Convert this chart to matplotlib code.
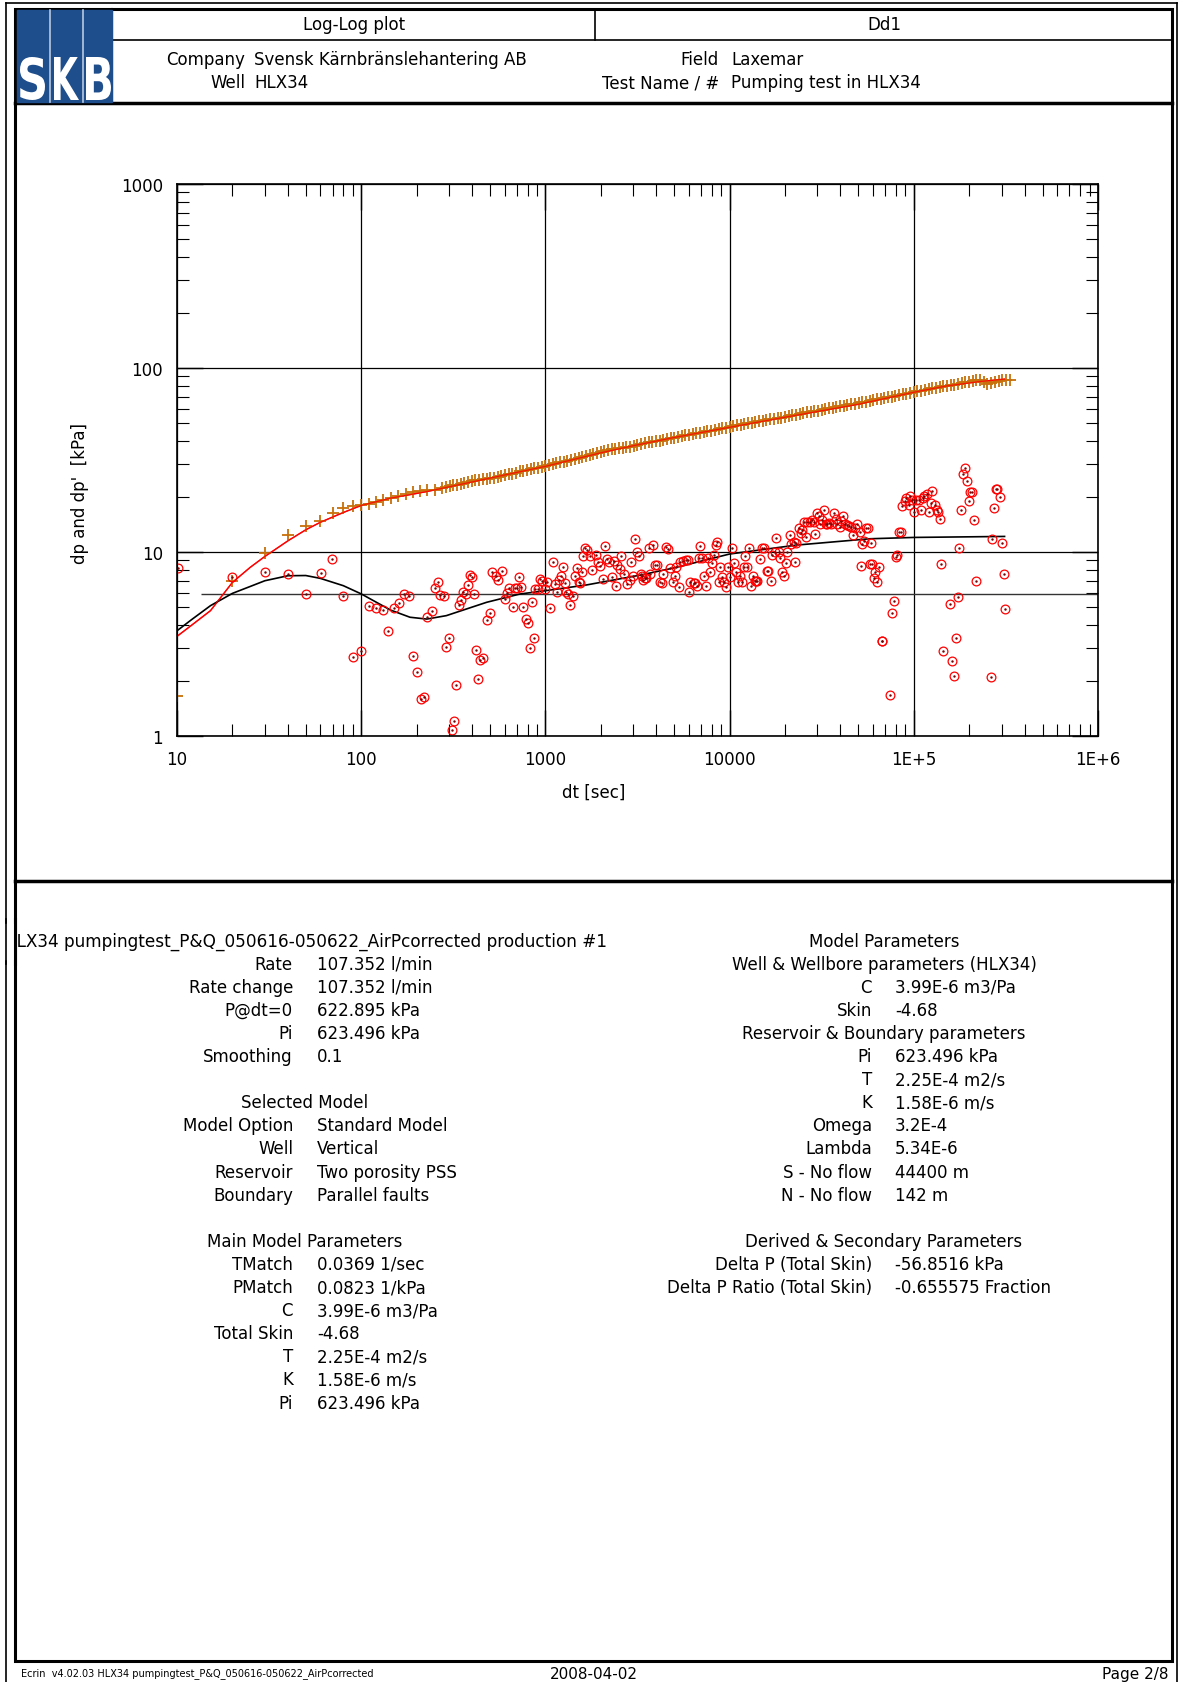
import matplotlib
matplotlib.use("Agg")
import matplotlib.pyplot as plt
from matplotlib.patches import Rectangle, PathPatch
from matplotlib.textpath import TextPath
from matplotlib.font_manager import FontProperties
from matplotlib.transforms import Affine2D
from matplotlib.ticker import FixedLocator, FixedFormatter, NullFormatter

W, H = 1182, 1683
plt.rcParams['font.family'] = 'DejaVu Sans'

# ---- pressure change (dp), kPa ----
dt_p = [10, 20, 30, 40, 50, 60, 70, 80, 90,
        100, 110, 120, 132, 145, 158, 174, 191, 209, 229, 251, 275, 288,
        302, 316, 331, 347, 363, 380, 398, 417, 437, 457, 479, 501, 525,
        550, 575, 603, 631, 661, 692, 724, 759, 794, 832, 871, 912, 955,
        1000, 1047, 1096, 1148, 1202, 1259, 1318, 1380, 1445, 1514, 1585,
        1660, 1738, 1820, 1905, 1995, 2089, 2188, 2291, 2399, 2512, 2630,
        2754, 2884, 3020, 3162, 3311, 3467, 3631, 3802, 3981, 4169, 4365,
        4571, 4786, 5012, 5248, 5495, 5754, 6026, 6310, 6607, 6918, 7244,
        7586, 7943, 8318, 8710, 9120, 9550,
        10000, 10470, 10960, 11480, 12020, 12590, 13180, 13800, 14450, 15140,
        15850, 16600, 17380, 18200, 19050, 19950, 20890, 21880, 22910, 23990,
        25120, 26300, 27540, 28840, 30200, 31620, 33110, 34670, 36310, 38020,
        39810, 41690, 43650, 45710, 47860, 50120, 52480, 54950, 57540, 60260,
        63100, 66070, 69180, 72440, 75860, 79430, 83180, 87100, 91200, 95500,
        100000, 104700, 109600, 114800, 120200, 125900, 131800, 138000, 144500,
        151400, 158500, 166000, 173800, 182000, 190500, 199500, 208900, 218800,
        229100, 239900, 251200, 263000, 275400, 288400, 302000, 316200, 331100]
dp_p = [1.65, 6.98, 9.88, 12.3, 13.8, 14.7, 16.3, 17.3, 17.8,
        18.1, 18.2, 18.7, 19.2, 19.6, 20.1, 20.7, 21.2, 21.4, 21.6, 21.8, 22.4, 22.6,
        22.9, 23.0, 23.1, 23.4, 23.6, 24.0, 24.3, 24.5, 24.7, 24.8, 24.9, 25.2, 25.4,
        25.6, 25.8, 26.1, 26.4, 26.7, 27.0, 27.4, 27.7, 27.9, 28.2, 28.5, 28.7, 29.0,
        29.2, 29.6, 30.0, 30.4, 30.7, 31.0, 31.4, 31.8, 32.1, 32.4, 32.7,
        33.1, 33.5, 34.0, 34.4, 34.8, 35.3, 35.7, 36.1, 36.4, 36.6, 36.8,
        37.1, 37.4, 37.8, 38.2, 38.6, 39.0, 39.4, 39.8, 40.1, 40.3, 40.6,
        41.0, 41.5, 41.9, 42.3, 42.7, 43.0, 43.4, 43.7, 44.1, 44.6, 45.0,
        45.3, 45.7, 46.1, 46.6, 47.0, 47.4,
        47.8, 48.3, 48.8, 49.2, 49.7, 50.1, 50.5, 50.9, 51.3, 51.6,
        52.0, 52.5, 53.0, 53.4, 53.8, 54.3, 54.8, 55.3, 55.8, 56.3,
        56.9, 57.3, 57.8, 58.2, 58.7, 59.3, 59.8, 60.3, 60.8, 61.3,
        61.9, 62.4, 63.0, 63.5, 64.0, 64.5, 65.0, 65.6, 66.2, 66.8,
        67.5, 68.1, 68.7, 69.3, 70.0, 70.5, 71.1, 71.8, 72.6, 73.3,
        74.0, 74.6, 75.3, 76.0, 76.7, 77.4, 78.2, 78.9, 79.6,
        80.1, 80.7, 81.3, 82.0, 82.9, 83.8, 84.4, 85.1, 85.6,
        86.1, 84.0, 82.2, 83.0, 84.1, 85.0, 85.7, 86.1, 86.5]

# ---- Bourdet derivative (dp'), kPa ----
dt_d = [10.1, 20, 30, 40.2, 49.9, 60.2, 69.7, 79.9, 89.8, 99.3,
        110, 120, 131, 139, 150, 160, 171, 181, 190, 200,
        210, 219, 227, 241, 250, 260, 269, 280, 289, 300,
        312, 320, 329, 339, 350, 358, 370, 381, 389, 400,
        410, 419, 431, 439, 459, 481, 499, 516, 538, 553,
        578, 602, 620, 636, 663, 682, 702, 717, 741, 760,
        780, 800, 820, 847, 862, 877, 910, 936, 960, 1000,
        1025, 1056, 1093, 1125, 1149, 1183, 1213, 1239, 1270, 1301,
        1334, 1368, 1413, 1449, 1486, 1513, 1538, 1581, 1603, 1637,
        1684, 1741, 1801, 1871, 1932, 1982, 2057, 2110, 2163, 2218,
        2302, 2350, 2410, 2460, 2535, 2588, 2662, 2788, 2871, 2931,
        3006, 3081, 3132, 3212, 3295, 3365, 3389, 3476, 3500, 3656,
        3681, 3840, 3925, 4040, 4177, 4300, 4355, 4541, 4656, 4732,
        4932, 5035, 5141, 5318, 5411, 5590, 5776, 5950, 6030, 6130,
        6385, 6500, 6660, 6830, 6950, 7125, 7270, 7420, 7635, 7800,
        8070, 8200, 8410, 8550, 8770, 8920, 9150, 9380, 9615, 9810,
        10000, 10350, 10610, 10880, 11100, 11340, 11670, 11910, 12120, 12420,
        12690, 13010, 13390, 13700, 13860, 14050, 14690, 14930, 15300, 15900,
        16250, 16700, 17070, 17570, 17950, 18540, 18870, 19350, 19680, 20180,
        20610, 21200, 21650, 22280, 22550, 23030, 23810, 24310, 24820, 25230,
        25870, 26430, 27200, 27880, 28590, 29070, 29800, 30550, 31070, 31860,
        32530, 33200, 33800, 34620, 35660, 36700, 37650, 38230, 39520, 40360,
        41200, 42260, 43360, 44460, 45600, 46700, 47900, 49100, 50800, 51400,
        52600, 53400, 55300, 56400, 57500, 58700, 59300, 60500, 61300, 63100,
        64700, 67000, 67600, 74500, 76000, 77600, 79600, 81300, 83200, 84800,
        86500, 89100, 91000, 94000, 95700, 98100, 99800, 103100, 106600, 109700,
        112000, 114300, 118200, 120200, 123300, 125900, 129600, 133400, 135200, 138100,
        141000, 143900, 157700, 161700, 165100, 168800, 173000, 175900, 181200, 184700,
        189300, 194000, 198200, 203000, 207000, 211900, 217300, 261000, 266500, 273400,
        280000, 284500, 292500, 299500, 307000, 312000]
dp_d = [8.15, 7.31, 7.82, 7.62, 5.89, 7.72, 9.12, 5.79, 2.70, 2.91,
        5.07, 4.94, 4.86, 3.71, 4.94, 5.26, 5.91, 5.74, 2.72, 2.24,
        1.58, 1.62, 4.45, 4.76, 6.40, 6.90, 5.82, 5.74, 3.05, 3.40,
        1.08, 1.20, 1.90, 5.17, 5.51, 6.04, 5.91, 6.62, 7.53, 7.34,
        5.89, 2.92, 2.04, 2.58, 2.64, 4.26, 4.68, 7.76, 7.38, 7.06,
        7.85, 5.55, 5.98, 6.35, 5.00, 6.35, 6.35, 7.28, 6.43, 5.00,
        4.32, 4.11, 3.01, 5.37, 3.40, 6.29, 6.29, 7.13, 6.96, 6.29,
        6.90, 4.96, 8.83, 6.70, 6.08, 7.05, 7.43, 8.26, 6.79, 6.08,
        5.91, 5.15, 5.74, 7.43, 8.15, 6.84, 6.79, 7.82, 9.55, 10.5,
        10.3, 9.48, 8.01, 9.67, 8.86, 8.36, 7.11, 10.8, 9.16, 8.86,
        7.28, 8.90, 6.56, 8.50, 8.09, 9.55, 7.59, 6.70, 7.05, 8.79,
        7.43, 11.8, 10.0, 9.55, 7.62, 7.38, 7.07, 7.19, 7.22, 10.5,
        7.59, 10.9, 8.50, 8.50, 6.90, 6.79, 7.59, 10.7, 10.4, 8.15,
        6.84, 7.38, 8.26, 6.43, 8.79, 8.97, 9.08, 9.08, 6.04, 6.90,
        6.79, 6.79, 6.51, 9.25, 10.8, 9.25, 7.43, 6.56, 9.25, 7.82,
        8.71, 9.63, 10.9, 11.4, 6.90, 8.26, 7.28, 6.90, 6.48, 8.26,
        7.28, 10.5, 8.71, 7.76, 6.90, 7.38, 6.90, 8.32, 9.55, 8.32,
        10.5, 6.56, 7.38, 6.98, 6.98, 6.98, 9.16, 10.5, 10.5, 7.92,
        7.92, 6.98, 9.63, 10.0, 11.9, 9.96, 9.25, 7.82, 7.38, 8.71,
        10.0, 12.3, 11.0, 11.3, 8.79, 11.2, 13.5, 12.7, 13.1, 14.5,
        12.0, 14.5, 14.6, 15.0, 14.6, 12.5, 16.3, 15.6, 14.2, 15.0,
        17.0, 14.2, 14.2, 14.4, 14.2, 16.3, 15.1, 14.2, 13.6, 14.8,
        15.6, 14.2, 14.0, 13.8, 13.6, 12.3, 13.5, 14.2, 12.8, 8.36,
        11.0, 11.5, 13.5, 13.5, 8.61, 11.2, 8.57, 7.19, 7.76, 6.90,
        8.26, 3.30, 3.30, 1.68, 4.66, 5.42, 9.36, 9.63, 12.8, 12.8,
        17.8, 19.0, 19.6, 18.0, 20.2, 19.2, 16.6, 19.2, 19.2, 16.9,
        19.6, 20.2, 20.7, 16.4, 18.5, 21.4, 18.0, 17.0, 16.4, 15.1,
        8.61, 2.90, 5.20, 2.55, 2.13, 3.40, 5.69, 10.5, 17.0, 26.5,
        28.6, 24.4, 19.0, 21.2, 21.2, 14.9, 6.98, 2.09, 11.7, 17.4,
        21.9, 21.9, 19.8, 11.2, 7.59, 4.88]

# ---- model curves ----
dt_mp = [10, 12, 15.2, 20, 25, 30, 35, 40, 50, 60, 80, 100, 144, 227, 300,
         500, 1000, 2000, 3000, 5000, 10000, 20000, 50000, 100000, 150000,
         230000, 311000]
dp_mp = [3.48, 4.0, 4.80, 6.84, 8.26, 9.46, 10.5, 11.5, 13.2, 14.5, 16.4, 17.9,
         19.6, 21.3, 22.6, 25.2, 29.2, 34.6, 37.8, 41.9, 47.6, 54.0, 63.5, 73.8,
         79.8, 84.5, 87.0]
dt_md = [10, 12, 15.2, 20, 25, 30, 40, 50, 60, 80, 100, 144, 184, 227, 290,
         480, 726, 1000, 1670, 3300, 5000, 10000, 23000, 57500, 100000, 311000]
dp_md = [3.73, 4.29, 5.11, 5.96, 6.5, 6.98, 7.43, 7.45, 7.19, 6.56, 5.92, 4.84,
         4.42, 4.32, 4.51, 5.33, 5.91, 6.16, 6.62, 7.5, 8.2, 9.75, 10.9, 11.8,
         12.0, 12.15]
stab_level = 5.9
stab_start = 13.5

x_ticks = [10, 100, 1000, 1e4, 1e5, 1e6]
x_tick_labels = ['10', '100', '1000', '10000', '1E+5', '1E+6']
y_ticks = [1, 10, 100, 1000]
y_tick_labels = ['1', '10', '100', '1000']

# ---- report text ----
header_left = [('Company', 'Svensk Kärnbränslehantering AB'), ('Well', 'HLX34')]
header_right = [('Field', 'Laxemar'), ('Test Name / #', 'Pumping test in HLX34')]
run_title = 'HLX34 pumpingtest_P&Q_050616-050622_AirPcorrected production #1'
left_rows = [
    (1, 'Rate', '107.352 l/min'), (2, 'Rate change', '107.352 l/min'),
    (3, 'P@dt=0', '622.895 kPa'), (4, 'Pi', '623.496 kPa'), (5, 'Smoothing', '0.1'),
    (7, None, 'Selected Model'),
    (8, 'Model Option', 'Standard Model'), (9, 'Well', 'Vertical'),
    (10, 'Reservoir', 'Two porosity PSS'), (11, 'Boundary', 'Parallel faults'),
    (13, None, 'Main Model Parameters'),
    (14, 'TMatch', '0.0369 1/sec'), (15, 'PMatch', '0.0823 1/kPa'),
    (16, 'C', '3.99E-6 m3/Pa'), (17, 'Total Skin', '-4.68'),
    (18, 'T', '2.25E-4 m2/s'), (19, 'K', '1.58E-6 m/s'), (20, 'Pi', '623.496 kPa'),
]
right_rows = [
    (0, None, 'Model Parameters'), (1, None, 'Well & Wellbore parameters (HLX34)'),
    (2, 'C', '3.99E-6 m3/Pa'), (3, 'Skin', '-4.68'),
    (4, None, 'Reservoir & Boundary parameters'),
    (5, 'Pi', '623.496 kPa'), (6, 'T', '2.25E-4 m2/s'), (7, 'K', '1.58E-6 m/s'),
    (8, 'Omega', '3.2E-4'), (9, 'Lambda', '5.34E-6'),
    (10, 'S - No flow', '44400 m'), (11, 'N - No flow', '142 m'),
    (13, None, 'Derived & Secondary Parameters'),
    (14, 'Delta P (Total Skin)', '-56.8516 kPa'),
    (15, 'Delta P Ratio (Total Skin)', '-0.655575 Fraction'),
]
footer_left = 'Ecrin  v4.02.03 HLX34 pumpingtest_P&Q_050616-050622_AirPcorrected'
footer_mid = '2008-04-02'
footer_right = 'Page 2/8'

FS = 12

fig = plt.figure(figsize=(W / 100, H / 100), dpi=100)

# page layer in pixel units, y downwards
page = fig.add_axes([0, 0, 1, 1])
page.set_xlim(0, W)
page.set_ylim(H, 0)
page.axis('off')

# frames
page.add_patch(Rectangle((15, 10), 1157, 1652, fill=False, lw=2.2, ec='black'))
page.plot([6, 6], [4, H], color='black', lw=1.2)
page.plot([1177, 1177], [4, H], color='black', lw=1.2)
page.plot([6, 1177], [4, 4], color='black', lw=1.2)
page.plot([112, 1172], [41, 41], color='black', lw=1.2)
page.plot([595, 595], [10, 41], color='black', lw=1.2)
page.plot([15, 1172], [104, 104], color='black', lw=2.5)
page.plot([15, 1172], [882, 882], color='black', lw=2.5)
page.plot([112, 112], [10, 104], color='black', lw=1.5)

# SKB logo
page.add_patch(Rectangle((17, 11), 95, 92, color='#1f4e8c', zorder=2))
for xs in (50, 83):
    page.plot([xs, xs], [11, 103], color='#b9c9e0', lw=1.2, zorder=3)
bold = FontProperties(family='DejaVu Sans', weight='bold')
for ch, x0 in zip('SKB', (20, 54, 86)):
    tp = TextPath((0, 0), ch, size=100, prop=bold)
    ext = tp.get_extents()
    w, h = 25, 43
    tr = (Affine2D().translate(-ext.x0, -ext.y0)
          .scale(w / ext.width, -h / ext.height).translate(x0, 101))
    page.add_patch(PathPatch(tr.transform_path(tp), color='white', lw=0, zorder=4))

# header text
page.text(354, 25, 'Log-Log plot', fontsize=FS, ha='center', va='center')
page.text(884, 25, 'Dd1', fontsize=FS, ha='center', va='center')
for i, (k, v) in enumerate(header_left):
    page.text(245, 60 + 23 * i, k, fontsize=FS, ha='right', va='center')
    page.text(254, 60 + 23 * i, v, fontsize=FS, ha='left', va='center')
for i, (k, v) in enumerate(header_right):
    page.text(719, 60 + 23 * i, k, fontsize=FS, ha='right', va='center')
    page.text(731, 60 + 23 * i, v, fontsize=FS, ha='left', va='center')

# axis labels
page.text(80, 494, "dp and dp'  [kPa]", fontsize=FS, rotation=90, ha='center', va='center')
page.text(594, 793, 'dt [sec]', fontsize=FS, ha='center', va='center')

# results text
def row_y(i):
    return 941.6 + 23.1 * i

page.text(4, row_y(0), run_title, fontsize=12.2, ha='left', va='center')
# the run title runs past the frame on the left; hide what sticks out
page.add_patch(Rectangle((0, 925), 14, 35, color='white', zorder=5))
page.plot([6, 6], [920, 965], color='black', lw=1.2, zorder=6)
page.plot([15, 15], [920, 965], color='black', lw=2.2, zorder=6)

for rows, xk, xv, xc in ((left_rows, 293, 317, 305), (right_rows, 872, 895, 884)):
    for i, k, v in rows:
        if k is None:
            page.text(xc, row_y(i), v, fontsize=FS, ha='center', va='center')
        else:
            page.text(xk, row_y(i), k, fontsize=FS, ha='right', va='center')
            page.text(xv, row_y(i), v, fontsize=FS, ha='left', va='center')

page.text(21, 1674, footer_left, fontsize=7, ha='left', va='center')
page.text(594, 1675, footer_mid, fontsize=11, ha='center', va='center')
page.text(1168, 1675, footer_right, fontsize=11, ha='right', va='center')

# log-log plot
ax = fig.add_axes([177 / W, 1 - 737 / H, 921 / W, 552 / H])
ax.set_xscale('log')
ax.set_yscale('log')
ax.set_xlim(10, 1e6)
ax.set_ylim(1, 1000)

ax.xaxis.set_major_locator(FixedLocator(x_ticks))
ax.xaxis.set_major_formatter(FixedFormatter(x_tick_labels))
ax.yaxis.set_major_locator(FixedLocator(y_ticks))
ax.yaxis.set_major_formatter(FixedFormatter(y_tick_labels))
ax.xaxis.set_minor_locator(FixedLocator([m * 10 ** e for e in range(1, 6) for m in range(2, 10)]))
ax.yaxis.set_minor_locator(FixedLocator([m * 10 ** e for e in range(0, 3) for m in range(2, 10)]))
ax.xaxis.set_minor_formatter(NullFormatter())
ax.yaxis.set_minor_formatter(NullFormatter())
ax.tick_params(which='both', direction='in', top=True, right=True, labelsize=FS)
ax.tick_params(which='major', length=19, width=1)
ax.tick_params(which='minor', length=8.5, width=0.8)
ax.tick_params(axis='x', which='major', pad=10)
ax.tick_params(axis='y', which='major', pad=10)
ax.grid(which='major', color='black', lw=0.9)
for s in ax.spines.values():
    s.set_linewidth(1.2)

ax.hlines(stab_level, stab_start, 1e6, color='#333333', lw=1)
ax.plot(dt_mp, dp_mp, color='red', lw=1)
ax.plot(dt_md, dp_md, color='black', lw=1.2)
ax.plot(dt_p, dp_p, '+', color='#c8700a', ms=8, mew=1.3)
ax.plot(dt_mp, dp_mp, color='red', lw=0.9, alpha=0.8)
ax.plot(dt_d, dp_d, 'o', mfc='none', mec='red', ms=6.3, mew=0.9)
ax.plot(dt_d, dp_d, '.', color='#7a0000', ms=1.5)

fig.savefig('out.png', dpi=100)
